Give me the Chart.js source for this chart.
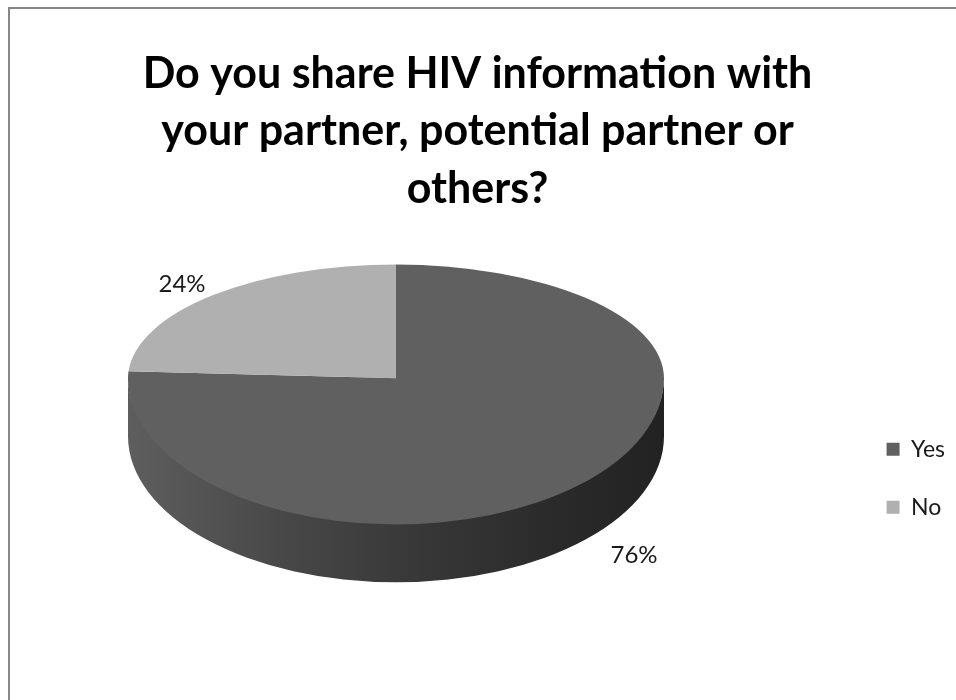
<!DOCTYPE html>
<html>
<head>
<meta charset="utf-8">
<script src="https://cdn.jsdelivr.net/npm/chart.js@4.4.1/dist/chart.umd.min.js"></script>
<style>
  html, body { margin: 0; padding: 0; background: #ffffff; }
  canvas { display: block; }
</style>
</head>
<body>
<canvas id="chart" width="956" height="700"></canvas>
<script>
// ---- data ----
const titleLines = ['Do you share HIV information with', 'your partner, potential partner or', 'others?'];
const categories = ['Yes', 'No'];
const shares = [76, 24];
const sliceColors = ['#606060', '#b0b0b0'];

// ---- 3D pie look ----
const pie3dStyle = {
  centerX: 396,          // horizontal centre of the pie disc
  tiltBack: 0.425,       // vertical squash of the far half of the disc
  tiltFront: 0.545,      // vertical squash of the near half (perspective)
  depth: 0.216,          // thickness of the disc, as a share of the radius
  wallShade: [[0, 0.98], [0.3, 0.74], [0.55, 0.57], [0.8, 0.44], [1, 0.35]],
  labelFont: '24px Lato',
  labelColor: '#1a1a1a',
  labelGap: [7, 3],
  labelNudgeX: [24, 0]
};

function shade(hex, f) {
  const n = parseInt(hex.slice(1), 16);
  const c = [(n >> 16) & 255, (n >> 8) & 255, n & 255].map(v => Math.round(v * f));
  return 'rgb(' + c.join(',') + ')';
}

function pieGeometry(chart, style) {
  const arcs = chart.getDatasetMeta(0).data;
  const rx = arcs[0].outerRadius;
  return {
    arcs, rx,
    cx: style.centerX,
    cy: chart.chartArea.top + rx * style.tiltBack,
    ryB: rx * style.tiltBack,
    ryF: rx * style.tiltFront,
    depth: rx * style.depth
  };
}

// parts of an arc that face the viewer (angles between 0 and PI)
function frontSpans(s, e) {
  const spans = [];
  for (let k = -1; k <= 1; k++) {
    const lo = Math.max(s, 2 * Math.PI * k);
    const hi = Math.min(e, 2 * Math.PI * k + Math.PI);
    if (hi > lo) spans.push([lo, hi]);
  }
  return spans;
}

const frame = {
  id: 'frame',
  beforeDraw(chart) {
    const ctx = chart.ctx;
    ctx.save();
    ctx.fillStyle = '#ffffff';
    ctx.fillRect(0, 0, chart.width, chart.height);
    ctx.strokeStyle = '#878787';
    ctx.lineWidth = 2;
    ctx.strokeRect(9, 8, chart.width + 200, chart.height + 200);
    ctx.restore();
  }
};

const pie3d = {
  id: 'pie3d',
  beforeDatasetsDraw(chart, args, style) {
    const ctx = chart.ctx;
    const g = pieGeometry(chart, style);
    const W = chart.width, H = chart.height;

    // side wall of the disc (starts a touch above the rim so the top face hides its edge)
    g.arcs.forEach((arc, i) => {
      const base = sliceColors[i];
      const grad = ctx.createLinearGradient(g.cx - g.rx, 0, g.cx + g.rx, 0);
      style.wallShade.forEach(([p, f]) => grad.addColorStop(p, shade(base, f)));
      frontSpans(arc.startAngle, arc.endAngle).forEach(([lo, hi]) => {
        ctx.save();
        ctx.fillStyle = grad;
        ctx.beginPath();
        ctx.ellipse(g.cx, g.cy - 1.5, g.rx, g.ryF, 0, lo, hi, false);
        ctx.ellipse(g.cx, g.cy + g.depth, g.rx, g.ryF, 0, hi, lo, true);
        ctx.closePath();
        ctx.fill();
        ctx.restore();
      });
    });

    // top face: the library's own arcs, squashed into perspective
    const halves = [
      [g.ryB / g.rx, 0, g.cy + 0.5],
      [g.ryF / g.rx, g.cy - 0.5, H]
    ];
    halves.forEach(([k, y0, y1]) => {
      ctx.save();
      ctx.beginPath();
      ctx.rect(0, y0, W, y1 - y0);
      ctx.clip();
      g.arcs.forEach(arc => {
        ctx.save();
        ctx.translate(g.cx, g.cy);
        ctx.scale(1, k);
        ctx.translate(-arc.x, -arc.y);
        arc.draw(ctx);
        ctx.restore();
      });
      ctx.restore();
    });
    return false;
  },
  afterDraw(chart, args, style) {
    const ctx = chart.ctx;
    const g = pieGeometry(chart, style);
    const values = chart.data.datasets[0].data;
    const total = values.reduce((a, b) => a + b, 0);
    ctx.save();
    ctx.font = style.labelFont;
    ctx.fillStyle = style.labelColor;
    ctx.textBaseline = 'alphabetic';
    const size = parseFloat(style.labelFont);
    g.arcs.forEach((arc, i) => {
      const m = (arc.startAngle + arc.endAngle) / 2;
      const c = Math.cos(m), s = Math.sin(m);
      const px = g.cx + g.rx * c;
      const py = s < 0 ? g.cy + g.ryB * s : g.cy + g.depth + g.ryF * s;
      const text = Math.round(values[i] / total * 100) + '%';
      ctx.textAlign = c < 0 ? 'right' : 'left';
      const x = px + Math.sign(c || 1) * (style.labelGap[0] + style.labelNudgeX[i]);
      const y = s < 0 ? py - style.labelGap[1] : py + style.labelGap[1] + size * 0.72;
      ctx.fillText(text, x, y);
    });
    ctx.restore();
  }
};

new Chart(document.getElementById('chart'), {
  type: 'pie',
  data: {
    labels: categories,
    datasets: [{
      data: shares,
      backgroundColor: sliceColors,
      borderWidth: 0
    }]
  },
  plugins: [frame, pie3d],
  options: {
    responsive: false,
    animation: false,
    events: [],
    radius: 268,
    layout: { padding: { left: 0, right: 1, top: 0, bottom: 8 } },
    plugins: {
      tooltip: { enabled: false },
      title: {
        display: true,
        text: titleLines,
        color: '#000000',
        font: { family: 'Lato', size: 43, weight: 'bold', lineHeight: 1.337 },
        padding: { top: 45, bottom: 47 }
      },
      legend: {
        position: 'right',
        align: 'center',
        fullSize: false,
        labels: {
          boxWidth: 13,
          boxHeight: 13,
          padding: 35,
          color: '#1a1a1a',
          font: { family: 'Lato', size: 23 }
        }
      },
      pie3d: pie3dStyle
    }
  }
});
</script>
</body>
</html>
